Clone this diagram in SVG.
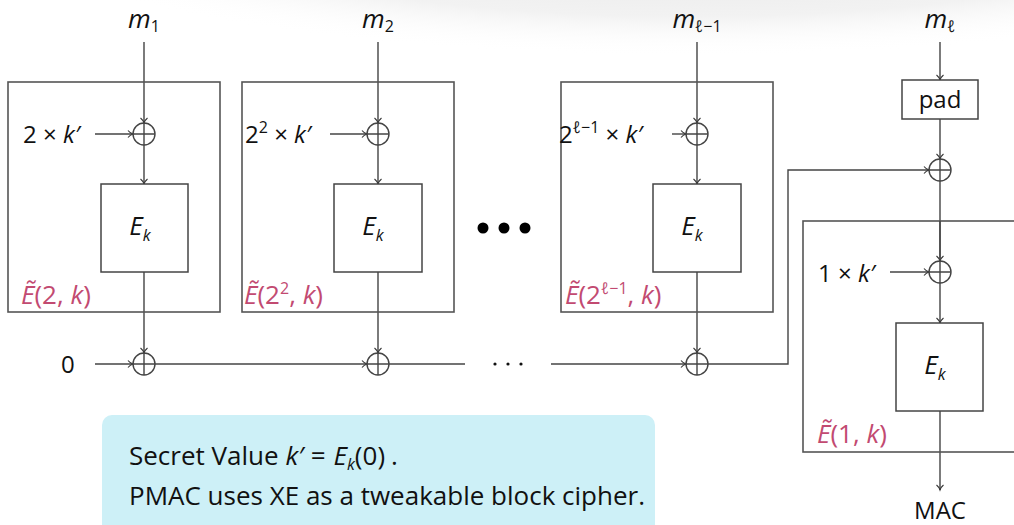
<svg xmlns="http://www.w3.org/2000/svg" width="1014" height="525" viewBox="0 0 1014 525">
<defs>
<radialGradient id="bg" cx="0.5" cy="0.2" r="0.6">
<stop offset="0" stop-color="#e4e4e4"/>
<stop offset="0.7" stop-color="#f2f2f2"/>
<stop offset="1" stop-color="#ffffff" stop-opacity="0"/>
</radialGradient>
<marker id="arr" markerUnits="userSpaceOnUse" markerWidth="10" markerHeight="10" refX="8" refY="5" orient="auto">
<path d="M3,1.5 Q5,4 8,5 Q5,6 3,8.5" fill="none" stroke="#333" stroke-width="1.1"/>
</marker>
<style>
.box{fill:none;stroke:#555;stroke-width:1.6}
.blk{fill:#fff;stroke:#444;stroke-width:1.5}
.ln{fill:none;stroke:#444;stroke-width:1.4}
.x{fill:none;stroke:#444;stroke-width:1.4}
.t{font-family:"Open Sans","Noto Sans",sans-serif;font-size:24px;fill:#111}
.i{font-style:italic}
.pk{fill:#c24a71;font-size:26px}
.sub{font-size:16px}
.m{font-size:26px;font-style:italic}
.ek{font-size:26px}
.note{font-size:26px}
</style>
</defs>
<rect width="1014" height="525" fill="#fff"/>
<ellipse cx="690" cy="-10" rx="580" ry="110" fill="url(#bg)"/>

<g id="connectors">
<line class="ln" x1="144" y1="42" x2="144" y2="123" marker-end="url(#arr)"/>
<line class="ln" x1="144" y1="145" x2="144" y2="184" marker-end="url(#arr)"/>
<line class="ln" x1="144" y1="272" x2="144" y2="353" marker-end="url(#arr)"/>
<line class="ln" x1="95" y1="134" x2="133" y2="134" marker-end="url(#arr)"/>
<line class="ln" x1="378" y1="42" x2="378" y2="123" marker-end="url(#arr)"/>
<line class="ln" x1="378" y1="145" x2="378" y2="184" marker-end="url(#arr)"/>
<line class="ln" x1="378" y1="272" x2="378" y2="353" marker-end="url(#arr)"/>
<line class="ln" x1="330" y1="134" x2="367" y2="134" marker-end="url(#arr)"/>
<line class="ln" x1="697" y1="42" x2="697" y2="123" marker-end="url(#arr)"/>
<line class="ln" x1="697" y1="145" x2="697" y2="184" marker-end="url(#arr)"/>
<line class="ln" x1="697" y1="272" x2="697" y2="353" marker-end="url(#arr)"/>
<line class="ln" x1="672" y1="134" x2="686" y2="134" marker-end="url(#arr)"/>
<line class="ln" x1="95" y1="364" x2="133" y2="364" marker-end="url(#arr)"/>
<line class="ln" x1="155" y1="364" x2="367" y2="364" marker-end="url(#arr)"/>
<line class="ln" x1="389" y1="364" x2="465" y2="364"/>
<line class="ln" x1="551" y1="364" x2="686" y2="364" marker-end="url(#arr)"/>
<polyline class="ln" points="708,364 788,364 788,170 929,170" marker-end="url(#arr)"/>
<line class="ln" x1="940" y1="42" x2="940" y2="80" marker-end="url(#arr)"/>
<line class="ln" x1="940" y1="119" x2="940" y2="159" marker-end="url(#arr)"/>
<line class="ln" x1="940" y1="181" x2="940" y2="261" marker-end="url(#arr)"/>
<line class="ln" x1="940" y1="283" x2="940" y2="323" marker-end="url(#arr)"/>
<line class="ln" x1="940" y1="411" x2="940" y2="490" marker-end="url(#arr)"/>
<line class="ln" x1="890" y1="272" x2="929" y2="272" marker-end="url(#arr)"/>
</g>

<g id="dots">
<circle cx="483" cy="228" r="5.5" fill="#000"/>
<circle cx="504" cy="228" r="5.5" fill="#000"/>
<circle cx="525" cy="228" r="5.5" fill="#000"/>
<circle cx="495" cy="364" r="1.6" fill="#111"/>
<circle cx="508" cy="364" r="1.6" fill="#111"/>
<circle cx="521" cy="364" r="1.6" fill="#111"/>
</g>

<g id="block1">
<rect class="box" x="8" y="82" width="212" height="230"/>
<text class="t" x="144" y="28" text-anchor="middle"><tspan class="m">m</tspan><tspan class="sub" dy="4">1</tspan></text>
<text class="t" x="23" y="143">2 × <tspan class="i">k′</tspan></text>
<g class="x"><circle cx="144" cy="134" r="11"/><path d="M133,134H155M144,123V145"/></g>
<rect class="blk" x="101" y="184" width="87" height="88"/>
<text class="t ek" x="140" y="235" text-anchor="middle"><tspan class="i">E</tspan><tspan class="i sub" dy="6">k</tspan></text>
<text class="t pk" x="21" y="304"><tspan class="i">Ẽ</tspan>(2, <tspan class="i">k</tspan>)</text>
</g>

<g id="block2">
<rect class="box" x="242" y="82" width="212" height="230"/>
<text class="t" x="378" y="28" text-anchor="middle"><tspan class="m">m</tspan><tspan class="sub" dy="4">2</tspan></text>
<text class="t" x="245" y="143">2<tspan class="sub" dy="-10">2</tspan><tspan dy="10"> × </tspan><tspan class="i">k′</tspan></text>
<g class="x"><circle cx="378" cy="134" r="11"/><path d="M367,134H389M378,123V145"/></g>
<rect class="blk" x="334" y="184" width="88" height="88"/>
<text class="t ek" x="373" y="235" text-anchor="middle"><tspan class="i">E</tspan><tspan class="i sub" dy="6">k</tspan></text>
<text class="t pk" x="244" y="304"><tspan class="i">Ẽ</tspan>(2<tspan class="sub" dy="-10">2</tspan><tspan dy="10">, </tspan><tspan class="i">k</tspan>)</text>
</g>

<g id="block3">
<rect class="box" x="561" y="82" width="212" height="230"/>
<text class="t" x="697" y="28" text-anchor="middle"><tspan class="m">m</tspan><tspan class="sub" dy="4"><tspan class="i">ℓ</tspan>−1</tspan></text>
<text class="t" x="559" y="143">2<tspan class="sub" dy="-10"><tspan class="i">ℓ</tspan>−1</tspan><tspan dy="10"> × </tspan><tspan class="i">k′</tspan></text>
<g class="x"><circle cx="697" cy="134" r="11"/><path d="M686,134H708M697,123V145"/></g>
<rect class="blk" x="653" y="184" width="88" height="88"/>
<text class="t ek" x="692" y="235" text-anchor="middle"><tspan class="i">E</tspan><tspan class="i sub" dy="6">k</tspan></text>
<text class="t pk" x="565" y="304"><tspan class="i">Ẽ</tspan>(2<tspan class="sub" dy="-10"><tspan class="i">ℓ</tspan>−1</tspan><tspan dy="10">, </tspan><tspan class="i">k</tspan>)</text>
</g>

<g id="xor-bottom">
<text class="t" x="61" y="373">0</text>
<g class="x"><circle cx="144" cy="364" r="11"/><path d="M133,364H155M144,353V375"/></g>
<g class="x"><circle cx="378" cy="364" r="11"/><path d="M367,364H389M378,353V375"/></g>
<g class="x"><circle cx="697" cy="364" r="11"/><path d="M686,364H708M697,353V375"/></g>
</g>

<g id="block4">
<text class="t" x="940" y="28" text-anchor="middle"><tspan class="m">m</tspan><tspan class="i sub" dy="4">ℓ</tspan></text>
<rect class="blk" x="902" y="80" width="76" height="39"/>
<text class="t" x="940" y="108" text-anchor="middle">pad</text>
<g class="x"><circle cx="940" cy="170" r="11"/><path d="M929,170H951M940,159V181"/></g>
<rect class="box" x="803" y="221" width="240" height="231"/>
<line class="ln" x1="940" y1="221" x2="940" y2="261"/>
<text class="t" x="818" y="282">1 × <tspan class="i">k′</tspan></text>
<g class="x"><circle cx="940" cy="272" r="11"/><path d="M929,272H951M940,261V283"/></g>
<rect class="blk" x="896" y="323" width="87" height="88"/>
<text class="t ek" x="935" y="374" text-anchor="middle"><tspan class="i">E</tspan><tspan class="i sub" dy="6">k</tspan></text>
<text class="t pk" x="817" y="443"><tspan class="i">Ẽ</tspan>(1, <tspan class="i">k</tspan>)</text>
<text class="t" x="940" y="519" text-anchor="middle">MAC</text>
</g>

<g id="note">
<rect x="102" y="415" width="553" height="130" rx="10" fill="#cdf0f7"/>
<text class="t note" x="129" y="465">Secret Value <tspan class="i">k′</tspan><tspan dx="7">=</tspan><tspan class="i" dx="8">E</tspan><tspan class="i sub" dy="5">k</tspan><tspan dy="-5">(0)</tspan><tspan dx="6">.</tspan></text>
<text class="t note" x="129" y="505">PMAC uses XE as a tweakable block cipher.</text>
</g>
</svg>
